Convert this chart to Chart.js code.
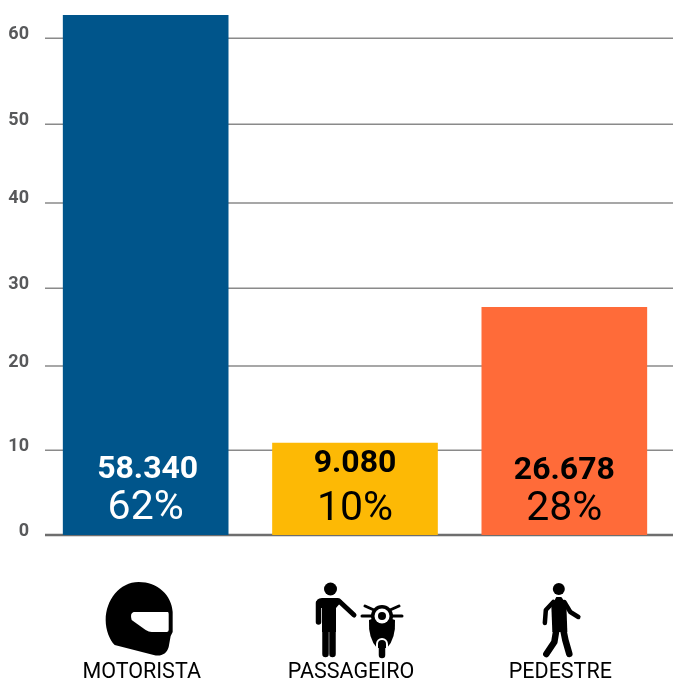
<!DOCTYPE html>
<html>
<head>
<meta charset="utf-8">
<style>
  html, body { margin: 0; padding: 0; background: #fff; overflow: hidden; }
  canvas { display: block; }
</style>
<script src="https://cdn.jsdelivr.net/npm/chart.js@4"></script>
</head>
<body>
<canvas id="chart" width="673" height="679"></canvas>
<script>
var categories = ['MOTORISTA', 'PASSAGEIRO', 'PEDESTRE'];
var barValues = [62.8, 11.1, 27.5];
var countLabels = ['58.340', '9.080', '26.678'];
var percentLabels = ['62%', '10%', '28%'];
var barColors = ['#00558b', '#fdb905', '#ff6b39'];
var labelColors = ['#ffffff', '#000000', '#000000'];
// the gridlines in the picture are not evenly spaced, so these are read off it too
var gridValues = [0, 10.25, 20.4, 29.8, 40.1, 49.6, 60];
var tickLabels = ['0', '10', '20', '30', '40', '50', '60'];

var fontName = 'Roboto, sans-serif';

// gridlines run 4px further right than the plot area the bars sit in
var gridPlugin = {
    id: 'grid',
    beforeDatasetsDraw: function(chart) {
        var ctx = chart.ctx, y = chart.scales.y;
        ctx.save();
        gridValues.forEach(function(v, i) {
            var py = y.getPixelForValue(v);
            ctx.strokeStyle = i === 0 ? '#6e6e6e' : '#8a8a8a';
            ctx.lineWidth = i === 0 ? 2.5 : 1.5;
            ctx.beginPath();
            ctx.moveTo(45, py);
            ctx.lineTo(673, py);
            ctx.stroke();
        });
        ctx.restore();
    }
};

var barTextPlugin = {
    id: 'barText',
    afterDatasetsDraw: function(chart) {
        var ctx = chart.ctx, x = chart.scales.x, y = chart.scales.y;
        var base = y.getPixelForValue(0);
        var countUp = [65, 71, 64];
        var pctUp = [26, 25, 25];
        var countShift = [2, 0, 0];
        ctx.save();
        ctx.textAlign = 'center';
        ctx.textBaseline = 'middle';
        categories.forEach(function(c, i) {
            var px = x.getPixelForValue(i);
            ctx.fillStyle = labelColors[i];
            ctx.font = 'bold 32px ' + fontName;
            ctx.fillText(countLabels[i], px + countShift[i], base - countUp[i]);
            ctx.font = '41px ' + fontName;
            ctx.fillText(percentLabels[i], px, base - pctUp[i]);
        });
        ctx.restore();
    }
};

function drawHelmet(ctx) {
    // x is relative to the category centre
    ctx.fillStyle = '#000';
    ctx.beginPath();
    ctx.moveTo(-7, 582);
    ctx.bezierCurveTo(-26, 582, -40, 600, -40, 620);
    ctx.bezierCurveTo(-40, 630, -36, 640, -31, 645);
    ctx.lineTo(8, 655);
    ctx.bezierCurveTo(15, 657, 21, 654, 23, 647);
    ctx.lineTo(25, 636);
    ctx.lineTo(27, 632);
    ctx.lineTo(27, 612);
    ctx.bezierCurveTo(26, 595, 12, 582, -7, 582);
    ctx.closePath();
    ctx.fill();
    ctx.fillStyle = '#fff';
    ctx.beginPath();
    ctx.moveTo(-12, 612);
    ctx.lineTo(22, 612);
    ctx.quadraticCurveTo(23, 612, 23, 614);
    ctx.lineTo(23, 630);
    ctx.quadraticCurveTo(23, 632, 21, 632);
    ctx.lineTo(6, 632);
    ctx.quadraticCurveTo(3, 632, 0, 630);
    ctx.lineTo(-14, 620);
    ctx.quadraticCurveTo(-16, 613, -12, 612);
    ctx.closePath();
    ctx.fill();
}

function drawRider(ctx) {
    ctx.fillStyle = '#000';
    ctx.strokeStyle = '#000';
    ctx.lineCap = 'round';
    ctx.lineJoin = 'round';
    // person
    ctx.beginPath();
    ctx.arc(-24.5, 589, 6.5, 0, Math.PI * 2);
    ctx.fill();
    ctx.beginPath();
    ctx.moveTo(-39, 604);
    ctx.quadraticCurveTo(-39, 598, -33, 598);
    ctx.lineTo(-17, 598);
    ctx.lineTo(-13, 601);
    ctx.lineTo(-19, 608);
    ctx.lineTo(-19, 632);
    ctx.lineTo(-33, 632);
    ctx.lineTo(-33, 608);
    ctx.lineTo(-39, 608);
    ctx.closePath();
    ctx.fill();
    ctx.lineWidth = 5.5;
    ctx.beginPath();
    ctx.moveTo(-36.5, 603);
    ctx.lineTo(-36.5, 622);
    ctx.stroke();
    ctx.lineWidth = 5;
    ctx.beginPath();
    ctx.moveTo(-16, 601);
    ctx.lineTo(-1, 615);
    ctx.stroke();
    ctx.lineWidth = 6.5;
    ctx.beginPath();
    ctx.moveTo(-29.5, 628);
    ctx.lineTo(-29.5, 654);
    ctx.moveTo(-22.5, 628);
    ctx.lineTo(-22.5, 654);
    ctx.stroke();
    // motorbike, seen from the front
    var m = 27;
    ctx.beginPath();
    ctx.arc(m, 616, 11, 0, Math.PI * 2);
    ctx.fill();
    ctx.beginPath();
    ctx.moveTo(m - 13, 620);
    ctx.quadraticCurveTo(m, 614, m + 13, 620);
    ctx.quadraticCurveTo(m + 14, 638, m + 5, 648);
    ctx.lineTo(m - 5, 648);
    ctx.quadraticCurveTo(m - 14, 638, m - 13, 620);
    ctx.closePath();
    ctx.fill();
    ctx.lineWidth = 3;
    ctx.beginPath();
    ctx.moveTo(m - 20, 616);
    ctx.lineTo(m + 20, 616);
    ctx.moveTo(m - 17, 606);
    ctx.lineTo(m - 8, 610);
    ctx.moveTo(m + 17, 606);
    ctx.lineTo(m + 8, 610);
    ctx.stroke();
    ctx.fillStyle = '#fff';
    ctx.beginPath();
    ctx.arc(m, 616, 7.5, 0, Math.PI * 2);
    ctx.fill();
    ctx.fillStyle = '#000';
    ctx.beginPath();
    ctx.arc(m, 616, 4, 0, Math.PI * 2);
    ctx.fill();
    ctx.strokeStyle = '#fff';
    ctx.lineWidth = 2;
    ctx.lineCap = 'butt';
    ctx.beginPath();
    ctx.arc(m, 644, 5, Math.PI, 0);
    ctx.lineTo(m + 5, 649);
    ctx.moveTo(m - 5, 644);
    ctx.lineTo(m - 5, 649);
    ctx.stroke();
    ctx.strokeStyle = '#000';
    ctx.lineWidth = 6.5;
    ctx.lineCap = 'round';
    ctx.beginPath();
    ctx.moveTo(m, 645);
    ctx.lineTo(m, 655);
    ctx.stroke();
}

function drawWalker(ctx) {
    ctx.fillStyle = '#000';
    ctx.strokeStyle = '#000';
    ctx.lineCap = 'round';
    ctx.lineJoin = 'round';
    ctx.beginPath();
    ctx.arc(-5.5, 589, 6, 0, Math.PI * 2);
    ctx.fill();
    ctx.beginPath();
    ctx.moveTo(-8, 597);
    ctx.lineTo(-3, 597);
    ctx.lineTo(2, 604);
    ctx.lineTo(3, 632);
    ctx.lineTo(-12, 632);
    ctx.lineTo(-13, 606);
    ctx.closePath();
    ctx.fill();
    ctx.lineWidth = 4.5;
    ctx.beginPath();
    ctx.moveTo(-11, 602);
    ctx.lineTo(-18.5, 610);
    ctx.lineTo(-19.5, 623);
    ctx.moveTo(0, 602);
    ctx.lineTo(6, 612);
    ctx.lineTo(14, 617);
    ctx.stroke();
    ctx.lineWidth = 6.5;
    ctx.beginPath();
    ctx.moveTo(-8, 630);
    ctx.lineTo(-10, 642);
    ctx.lineTo(-18, 654);
    ctx.moveTo(-1, 630);
    ctx.lineTo(1, 640);
    ctx.lineTo(5, 654);
    ctx.stroke();
}

var iconPlugin = {
    id: 'icons',
    afterDraw: function(chart) {
        var ctx = chart.ctx, x = chart.scales.x;
        [drawHelmet, drawRider, drawWalker].forEach(function(draw, i) {
            ctx.save();
            ctx.translate(x.getPixelForValue(i), 0);
            draw(ctx);
            ctx.restore();
        });
    }
};

new Chart(document.getElementById('chart').getContext('2d'), {
    type: 'bar',
    data: {
        labels: categories,
        datasets: [{
            data: barValues,
            backgroundColor: barColors,
            borderWidth: 0,
            barThickness: 165
        }]
    },
    plugins: [gridPlugin, barTextPlugin, iconPlugin],
    options: {
        responsive: false,
        animation: false,
        layout: { padding: { top: 15, left: 0, right: 4, bottom: 0 } },
        plugins: { legend: { display: false }, tooltip: { enabled: false } },
        scales: {
            x: {
                grid: { display: false, drawTicks: false },
                border: { display: false },
                afterFit: function(scale) {
                    // tick padding would otherwise squeeze the plot area sideways
                    scale.height = 144;
                    scale.paddingLeft = 0;
                    scale.paddingRight = 0;
                },
                ticks: {
                    color: '#000',
                    font: { family: fontName, size: 21.5 },
                    padding: 125,
                    labelOffset: -4,
                    maxRotation: 0
                }
            },
            y: {
                min: 0,
                max: 62.8,
                grid: { display: false, drawTicks: false },
                border: { display: false },
                afterFit: function(scale) {
                    scale.width = 41;
                    scale.paddingTop = 0;
                    scale.paddingBottom = 0;
                },
                afterBuildTicks: function(scale) {
                    scale.ticks = gridValues.map(function(v) { return { value: v }; });
                },
                ticks: {
                    color: '#58595b',
                    font: { family: fontName, size: 18, weight: 'bold' },
                    padding: 12,
                    labelOffset: -4,
                    autoSkip: false,
                    callback: function(value, index) { return tickLabels[index]; }
                }
            }
        }
    }
});
</script>
</body>
</html>
